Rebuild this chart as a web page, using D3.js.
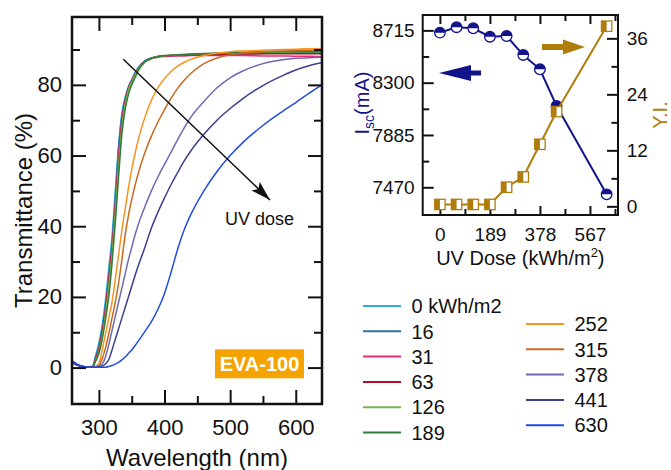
<!DOCTYPE html>
<html><head><meta charset="utf-8">
<script src="https://cdn.jsdelivr.net/npm/d3@7"></script>
<style>body{margin:0;background:#fff}svg{display:block;font-family:"Liberation Sans",Arial,sans-serif}</style>
</head><body><svg id="c" width="671" height="470"></svg>
<script>
// ---------------- data ----------------
const wavelengths = [260,270,280,290,295,300,305,310,315,320,325,330,335,340,345,350,355,360,370,380,390,400,410,420,430,440,460,480,500,520,550,580,600,620,640];
const seriesLabels = ["0 kWh/m2","16","31","63","126","189","252","315","378","441","630"];
const seriesColors = ["#29abe2","#2a74ad","#e0307a","#b0102a","#7ab648","#2e7d3a","#f7931e","#c9691e","#6b6bb5","#3b3f8c","#1f4de0"];
const t0   = [1.4,0.6,0.2,0.3,3.5,7,12,19,28,37,50,63,72,76.5,79.5,81.5,83.5,85,86.8,87.6,88,88.2, 88.3,88.4,88.5,88.6,88.7,88.8,88.9,89,89.1,89.2,89.2,89.2,89.2];
const t16  = [1.4,0.6,0.2,0.3,2.8,6,11,17.5,26,35,48,62,71,76,79.2,81.3,83.2,84.8,86.7,87.6,88,88.2, 88.3,88.4,88.4,88.5,88.6,88.7,88.8,88.8,88.9,89,89,89,89];
const t31  = [1.3,0.6,0.2,0.3,2.5,5.5,10,16.5,25,34,46,60,70,75.5,79,81.2,83,84.6,86.5,87.4,87.8,88, 88.1,88.2,88.2,88.3,88.3,88.3,88.3,88.3,88.2,88.2,88.1,88.1,88];
const t63  = [1.3,0.5,0.2,0.2,2.3,5,9.5,16,24,33,45,58,69,75,78.8,81,83,84.6,86.6,87.5,88,88.2, 88.3,88.4,88.5,88.5,88.6,88.6,88.7,88.7,88.8,88.8,88.8,88.8,88.8];
const t126 = [1.3,0.5,0.2,0.2,2,4.5,9,15,23,32,44,57,68,74.5,78.5,80.8,82.8,84.5,86.5,87.5,88,88.2, 88.4,88.5,88.6,88.7,88.8,88.9,89,89.1,89.2,89.2,89.3,89.3,89.3];
const t189 = [1.3,0.5,0.2,0.2,1.8,4,8,13.5,20,29.5,41,54,66,73,77.3,80,82,84,86.5,87.5,88,88.3, 88.4,88.5,88.6,88.7,88.9,89,89.1,89.2,89.3,89.4,89.4,89.4,89.4];
const t252 = [1.3,0.5,0.1,0.1,0.4,1.2,5,9.5,14,18.5,25,32,38.8,45,50.8,56,60.5,64.5,70.8,75.6,79.2,81.8, 83.8,85.3,86.4,87.2,88.3,89,89.4,89.6,89.8,90,90.1,90.2,90.2];
const t315 = [1.3,0.5,0.1,0.1,0.2,0.6,2.5,5.5,9.5,14,18.5,24,30.5,37.5,43,47.5,51.5,55,60.8,65.5,69.5,73, 76.2,79,81.3,83.2,86,87.6,88.5,89,89.4,89.6,89.7,89.8,89.8];
const t378 = [1.3,0.5,0.1,0.1,0.2,0.4,1,3,6.5,10.5,14.5,18.5,22.5,26.5,30.5,34,37.5,40.5,45.5,50,54,57.5, 61,64.5,67.8,70.8,75.3,79.2,82,84,86,87.1,87.5,87.7,87.8];
const t441 = [1.4,0.5,0.1,0.1,0.1,0.1,0.4,1,2.3,5,8,11,14,17,20,23,26,28.8,34,39.5,44,48, 51.8,55.2,58.5,61.3,66,70,73.3,76.2,79.8,82.6,84.2,85.4,86.3];
const t630 = [1.8,0.7,0.2,0.1,0.1,0.1,0.1,0.1,0.3,0.6,1,1.5,2.2,3,4,5,6.2,7.5,10.2,13,16.5,21, 27,33.5,39,43.3,50,55.5,60,63.8,68.5,72.5,75,77.6,80];
const transmittance = [t0,t16,t31,t63,t126,t189,t252,t315,t378,t441,t630];

const uvDose = [0,63,126,189,252,315,378,441,630];
const isc = [8697,8740,8732,8665,8670,8520,8406,8115,7414];
const yellowIndex = [0.4,0.4,0.4,0.4,4.1,6.3,13.3,20.3,38.6];

const wlTicksMajor = [300,400,500,600], wlTicksMinor = [350,450,550];
const tTicksMajor = [0,20,40,60,80], tTicksMinor = [10,30,50,70,90];
const doseTicksMajor = [0,189,378,567], doseTicksMinor = [94.5,283.5,472.5,661.5];
const iscTicksMajor = [7470,7885,8300,8715], iscTicksMinor = [7677.5,8092.5,8507.5];
const yiTicksMajor = [0,12,24,36], yiTicksMinor = [6,18,30];

// ---------------- drawing ----------------
const svg = d3.select("#c");
svg.append("rect").attr("width",671).attr("height",470).attr("fill","#fff");

function styleAxis(g, fs){
  g.select(".domain").remove();
  g.attr("font-family","Liberation Sans, Arial, sans-serif").attr("font-size",fs);
  g.selectAll("text").attr("fill","#111");
}

// ---- left plot ----
const L = {x0:72,x1:322,y0:17,y1:404};
const x = d3.scaleLinear().domain([259,640]).range([L.x0,L.x1]);
const y = d3.scaleLinear().domain([-10.3,99.2]).range([L.y1,L.y0]);

const left = svg.append("g");
svg.append("clipPath").attr("id","clipL").append("rect")
  .attr("x",L.x0).attr("y",L.y0).attr("width",L.x1-L.x0).attr("height",L.y1-L.y0);

const line = d3.line().x((d,i)=>x(wavelengths[i])).y(d=>y(d)).curve(d3.curveMonotoneX);
left.append("g").attr("clip-path","url(#clipL)").selectAll("path").data(transmittance).join("path")
  .attr("d",line).attr("fill","none").attr("stroke",(d,i)=>seriesColors[i]).attr("stroke-width",1.5);

function axesL(){
  const mk = (axis, tr, vals, size, fmt, pad) => {
    const g = left.append("g").attr("transform",tr)
      .call(axis.tickValues(vals).tickSize(size).tickPadding(pad).tickFormat(fmt));
    styleAxis(g, 22);
    g.selectAll("line").attr("stroke","#111").attr("stroke-width",2);
    return g;
  };
  mk(d3.axisBottom(x), `translate(0,${L.y1})`, wlTicksMajor, -14, d3.format("d"), 15.4);
  mk(d3.axisBottom(x), `translate(0,${L.y1})`, wlTicksMinor, -8, ()=>"", 0);
  mk(d3.axisTop(x), `translate(0,${L.y0})`, wlTicksMajor, -14, ()=>"", 0);
  mk(d3.axisTop(x), `translate(0,${L.y0})`, wlTicksMinor, -8, ()=>"", 0);
  mk(d3.axisLeft(y), `translate(${L.x0},0)`, tTicksMajor, -14, d3.format("d"), 10);
  mk(d3.axisLeft(y), `translate(${L.x0},0)`, tTicksMinor, -8, ()=>"", 0);
  mk(d3.axisRight(y), `translate(${L.x1},0)`, tTicksMajor, -14, ()=>"", 0);
  mk(d3.axisRight(y), `translate(${L.x1},0)`, tTicksMinor, -8, ()=>"", 0);
}
axesL();
left.append("rect").attr("x",L.x0).attr("y",L.y0).attr("width",L.x1-L.x0).attr("height",L.y1-L.y0)
  .attr("fill","none").attr("stroke","#111").attr("stroke-width",2.5);

left.append("text").attr("x",(L.x0+L.x1)/2).attr("y",465.5).attr("text-anchor","middle")
  .attr("font-size",24).attr("fill","#111").text("Wavelength (nm)");
left.append("text").attr("transform",`translate(32,${(L.y0+L.y1)/2}) rotate(-90)`).attr("text-anchor","middle")
  .attr("font-size",24).attr("fill","#111").text("Transmittance (%)");

// UV dose arrow
const defs = svg.append("defs");
defs.append("marker").attr("id","ah").attr("viewBox","0 0 20 12").attr("refX",20).attr("refY",6)
  .attr("markerWidth",20).attr("markerHeight",12).attr("markerUnits","userSpaceOnUse").attr("orient","auto")
  .append("path").attr("d","M0,0 L20,6 L0,12 L4,6 Z").attr("fill","#111");
left.append("line").attr("x1",123.3).attr("y1",59.3).attr("x2",270).attr("y2",200)
  .attr("stroke","#111").attr("stroke-width",1.5).attr("marker-end","url(#ah)");
left.append("text").attr("x",259.5).attr("y",225).attr("text-anchor","middle").attr("font-size",18).attr("fill","#111").text("UV dose");

// EVA-100 badge
left.append("rect").attr("x",215).attr("y",349.3).attr("width",89).attr("height",29).attr("fill","#f5a300");
left.append("text").attr("x",259.5).attr("y",370.5).attr("text-anchor","middle").attr("font-size",20)
  .attr("font-weight","bold").attr("fill","#fff").text("EVA-100");

// ---- legend ----
const leg = svg.append("g").attr("font-size",20);
seriesLabels.forEach((lab,i)=>{
  const col = i<6 ? 0 : 1, row = i<6 ? i : i-6;
  const lx = col===0 ? 363 : 526, ty = col===0 ? 306 + row*25.3 : 324 + row*25.3;
  leg.append("line").attr("x1",lx).attr("x2",lx+38).attr("y1",ty).attr("y2",ty)
    .attr("stroke",seriesColors[i]).attr("stroke-width",2);
  leg.append("text").attr("x",lx+48.5).attr("y",ty).attr("dy","0.36em").attr("fill","#111").text(lab);
});

// ---- right plot ----
const R = {x0:422.7,x1:618,y0:15,y1:215};
const navy = "#14148a", brown = "#b07c0c";
const xr = d3.scaleLinear().domain([-65,673]).range([R.x0,R.x1]);
const yl = d3.scaleLinear().domain([7250,8837]).range([R.y1,R.y0]);
const yr = d3.scaleLinear().domain([-1.86,41]).range([R.y1,R.y0]);
const right = svg.append("g");

function axesR(){
  const mk = (axis, tr, vals, size, fmt, pad) => {
    const g = right.append("g").attr("transform",tr)
      .call(axis.tickValues(vals).tickSize(size).tickPadding(pad).tickFormat(fmt));
    styleAxis(g, 19);
    g.selectAll("line").attr("stroke","#111").attr("stroke-width",2);
    return g;
  };
  mk(d3.axisBottom(xr), `translate(0,${R.y1})`, doseTicksMajor, -9, d3.format("d"), 12.2);
  mk(d3.axisBottom(xr), `translate(0,${R.y1})`, doseTicksMinor, -6, ()=>"", 0);
  mk(d3.axisTop(xr), `translate(0,${R.y0})`, doseTicksMajor, -9, ()=>"", 0);
  mk(d3.axisTop(xr), `translate(0,${R.y0})`, doseTicksMinor, -6, ()=>"", 0);
  mk(d3.axisLeft(yl), `translate(${R.x0},0)`, iscTicksMajor, -11, d3.format("d"), 8);
  mk(d3.axisLeft(yl), `translate(${R.x0},0)`, iscTicksMinor, -6.5, ()=>"", 0);
  mk(d3.axisRight(yr), `translate(${R.x1},0)`, yiTicksMajor, -11, d3.format("d"), 8.7);
  mk(d3.axisRight(yr), `translate(${R.x1},0)`, yiTicksMinor, -6.5, ()=>"", 0);
}
axesR();

// Isc series
right.append("path").datum(isc).attr("fill","none").attr("stroke",navy).attr("stroke-width",2)
  .attr("d",d3.line().x((d,i)=>xr(uvDose[i])).y(d=>yl(d)));
const cg = right.selectAll("g.c").data(isc).join("g").attr("class","c")
  .attr("transform",(d,i)=>`translate(${xr(uvDose[i])},${yl(d)})`);
const r = 5.3;
cg.append("circle").attr("r",r).attr("fill","#fff");
cg.append("path").attr("d",`M${-r},0 A${r},${r} 0 0 1 ${r},0 Z`).attr("fill",navy);
cg.append("circle").attr("r",r).attr("fill","none").attr("stroke",navy).attr("stroke-width",1.3);

// YI series
right.append("path").datum(yellowIndex).attr("fill","none").attr("stroke",brown).attr("stroke-width",2)
  .attr("d",d3.line().x((d,i)=>xr(uvDose[i])).y(d=>yr(d)));
const sg = right.selectAll("g.s").data(yellowIndex).join("g").attr("class","s")
  .attr("transform",(d,i)=>`translate(${xr(uvDose[i])},${yr(d)})`);
const h = 5.2;
sg.append("rect").attr("x",-h).attr("y",-h).attr("width",2*h).attr("height",2*h).attr("fill","#fff");
sg.append("rect").attr("x",-h).attr("y",-h).attr("width",h).attr("height",2*h).attr("fill",brown);
sg.append("rect").attr("x",-h).attr("y",-h).attr("width",2*h).attr("height",2*h).attr("fill","none")
  .attr("stroke",brown).attr("stroke-width",1.3);

right.append("rect").attr("x",R.x0).attr("y",R.y0).attr("width",R.x1-R.x0).attr("height",R.y1-R.y0)
  .attr("fill","none").attr("stroke","#111").attr("stroke-width",2);

// arrows
right.append("path").attr("d","M439,73 L471,65 L471,70.5 L481,70.5 L481,75.5 L471,75.5 L471,81 Z").attr("fill",navy);
right.append("path").attr("d","M585,47 L563,39.5 L563,44 L542,44 L542,50 L563,50 L563,54.5 Z").attr("fill",brown);

// axis titles
const xt = right.append("text").attr("x",(R.x0+R.x1)/2).attr("y",265).attr("text-anchor","middle")
  .attr("font-size",20).attr("fill","#111");
xt.append("tspan").text("UV Dose (kWh/m");
xt.append("tspan").attr("font-size",13).attr("dy",-8).text("2");
xt.append("tspan").attr("dy",8).text(")");

const il = right.append("text").attr("transform",`translate(369,${103}) rotate(-90)`).attr("text-anchor","middle")
  .attr("font-size",20).attr("fill",navy);
il.append("tspan").text("I");
il.append("tspan").attr("font-size",14).attr("dy",5).text("sc");
il.append("tspan").attr("dy",-5).text("(mA)");

right.append("text").attr("transform",`translate(667,${115}) rotate(-90)`).attr("text-anchor","middle")
  .attr("font-size",20).attr("fill",brown).text("Y.I.");
</script></body></html>
